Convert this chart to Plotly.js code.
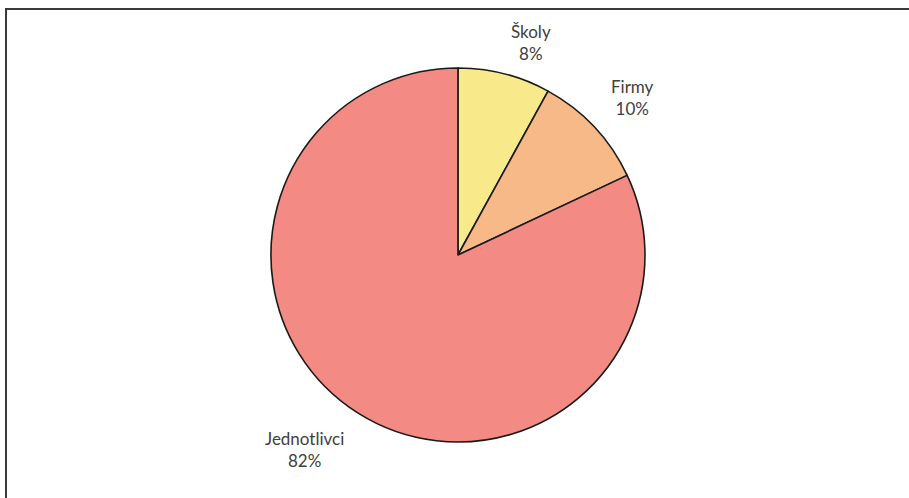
<!DOCTYPE html>
<html>
<head>
<meta charset="utf-8">
<script src="https://cdn.plot.ly/plotly-3.0.1.min.js"></script>
<style>html,body{margin:0;padding:0;background:#fff;}#chart{width:909px;height:498px;}</style>
</head>
<body>
<div id="chart"></div>
<script>
const categories = ["Školy", "Firmy", "Jednotlivci"];
const values = [8, 10, 82];
const colors = ["#F8E98A", "#F7B987", "#F38A83"];

// layout / styling (not data)
const W = 909, H = 498;
const domX = [0.298, 0.7096], domY = [0.1124, 0.8635];
const labelNudge = [[14, 16], [3, 4], [-27, -4]]; // px tweaks for label placement

const total = values.reduce((a, b) => a + b, 0);
const cx = (domX[0] + domX[1]) / 2 * W;
const cy = (1 - (domY[0] + domY[1]) / 2) * H;
const R = Math.min((domX[1] - domX[0]) * W, (domY[1] - domY[0]) * H) / 2;

let cum = 0;
const annotations = categories.map((c, i) => {
  const mid = (cum + values[i] / 2) / total * 2 * Math.PI;
  cum += values[i];
  const r = 1.26 * R;
  const px = cx + r * Math.sin(mid) + labelNudge[i][0];
  const py = cy - r * Math.cos(mid) + labelNudge[i][1];
  const pct = Math.round(values[i] / total * 100) + "%";
  return {
    xref: "paper", yref: "paper", x: px / W, y: 1 - py / H,
    xanchor: "center", yanchor: "middle", showarrow: false, align: "center",
    text: c + "<br>" + pct,
    font: { family: "Lato, 'Open Sans', sans-serif", size: 17, color: "#404040" }
  };
});

const trace = {
  type: "pie",
  labels: categories,
  values: values,
  sort: false,
  direction: "clockwise",
  rotation: 0,
  marker: { colors: colors, line: { color: "#1a1a1a", width: 1.6 } },
  textinfo: "none",
  hoverinfo: "label+percent",
  showlegend: false,
  domain: { x: domX, y: domY }
};

const layout = {
  width: W, height: H,
  margin: { l: 0, r: 0, t: 0, b: 0 },
  paper_bgcolor: "#ffffff",
  showlegend: false,
  annotations: annotations,
  shapes: [{
    type: "rect", xref: "paper", yref: "paper",
    x0: 6 / W, x1: 1.02, y0: -0.02, y1: 1 - 9 / H,
    line: { color: "#3a3a3a", width: 2 }, fillcolor: "rgba(0,0,0,0)"
  }]
};

Plotly.newPlot("chart", [trace], layout, { displayModeBar: false, staticPlot: true });
</script>
</body>
</html>
